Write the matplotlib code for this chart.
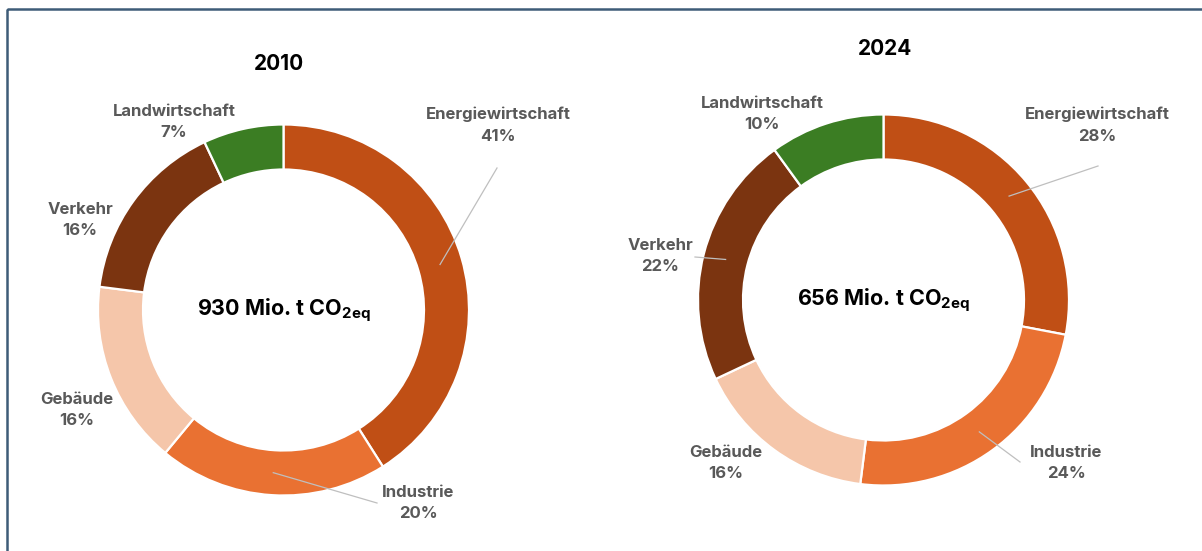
import numpy as np
import matplotlib.pyplot as plt
from matplotlib.patches import Rectangle

plt.rcParams['font.family'] = ['Inter', 'DejaVu Sans']
plt.rcParams['mathtext.fontset'] = 'custom'
plt.rcParams['mathtext.bf'] = 'Inter:bold'
plt.rcParams['mathtext.rm'] = 'Inter:bold'

# data
sectors = ['Energiewirtschaft', 'Industrie', 'Gebäude', 'Verkehr', 'Landwirtschaft']
colors = ['#C04F15', '#E97132', '#F5C6AA', '#7B3410', '#3B7D23']
years = ['2010', '2024']
share_2010 = [41, 20, 16, 16, 7]
share_2024 = [28, 24, 16, 22, 10]
totals = [930, 656]

# layout (pixel coords, y down)
centers = [(283.5, 310), (883.5, 300)]
radius = 185.5
width = 45
title_pos = [(279, 64), (885, 49)]
label_pos = [
    [(498, 125), (418, 503), (77, 410), (80, 220), (174, 122)],
    [(1097, 125), (1066, 463), (726, 463), (660, 256), (762, 114)],
]
# leader line start points (None = no leader)
leader_start = [
    [(497, 168), (377, 503), None, None, None],
    [(1098, 166), (1020, 462), None, (695, 257), None],
]

fig = plt.figure(figsize=(12.02, 5.51), dpi=100)
ax = fig.add_axes([0, 0, 1, 1])

for k, shares in enumerate([share_2010, share_2024]):
    cx, cy = centers[k]
    ax.pie(shares, colors=colors, center=(cx, cy), radius=radius,
           startangle=-90, counterclock=True,
           wedgeprops=dict(width=width, edgecolor='white', linewidth=1.6))
    ax.text(*title_pos[k], years[k], ha='center', va='center',
            fontsize=15, fontweight='bold', color='black')
    ax.text(cx, cy, f'{totals[k]} Mio. t CO$_{{\\mathbf{{2eq}}}}$', ha='center', va='center',
            fontsize=15.5, fontweight='bold', color='black')
    cum = np.cumsum([0] + shares) / sum(shares)
    for i, name in enumerate(sectors):
        lx, ly = label_pos[k][i]
        ax.text(lx, ly, f'{name}\n{shares[i]}%', ha='center', va='center',
                fontsize=12, fontweight='bold', color='#595959',
                linespacing=1.55)
        if leader_start[k][i] is not None:
            ang = np.deg2rad(-90 + (cum[i] + cum[i + 1]) / 2 * 360)
            r = radius - width / 2
            ex, ey = cx + r * np.cos(ang), cy + r * np.sin(ang)
            sx, sy = leader_start[k][i]
            ax.plot([sx, ex], [sy, ey], color='#BFBFBF', lw=0.9)

ax.add_patch(Rectangle((7, 9), 1300, 700, fill=False, edgecolor='#3E5C78', lw=1.8))
ax.set_xlim(0, 1202)
ax.set_ylim(551, 0)
ax.set_aspect('equal')
ax.axis('off')

fig.savefig('out.png', dpi=100)
